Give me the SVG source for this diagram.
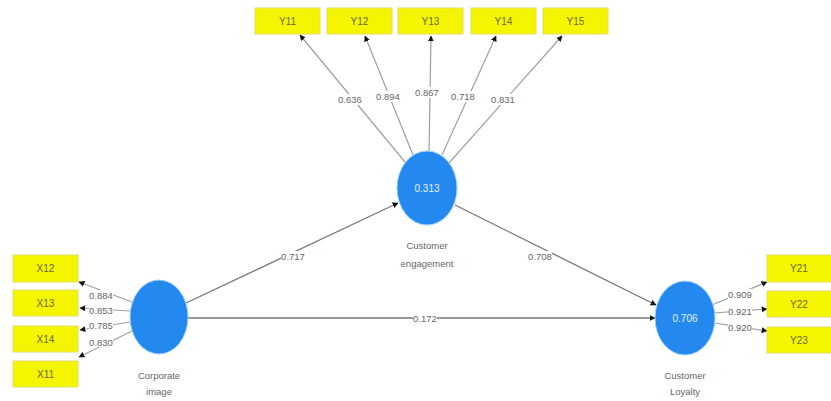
<svg xmlns="http://www.w3.org/2000/svg" width="831" height="401" viewBox="0 0 831 401">
<style>
.box{fill:#f5f500;stroke:#e2dc6a;stroke-width:1}
.bt{font-family:"Liberation Sans",Arial,sans-serif;font-size:10px;fill:#6a6a40;text-anchor:middle}
.lv{fill:#2389ef;stroke:#9fd0ff;stroke-width:1}
.lvt{font-family:"Liberation Sans",Arial,sans-serif;font-size:10px;fill:#e8f2ff;text-anchor:middle}
.nm{font-family:"Liberation Sans",Arial,sans-serif;font-size:9.5px;fill:#666;text-anchor:middle}
.ld{stroke:#a0a0a0;stroke-width:1.2;fill:none;marker-end:url(#ah)}
.st{stroke:#777;stroke-width:1.3;fill:none;marker-end:url(#ah)}
.lb{font-family:"Liberation Sans",Arial,sans-serif;font-size:9.5px;fill:#666;text-anchor:middle}
.bg{fill:#fff}
</style>
<defs>
<marker id="ah" viewBox="0 0 10 10" refX="9" refY="5" markerWidth="6" markerHeight="6" markerUnits="userSpaceOnUse" orient="auto">
<path d="M0,0 L10,5 L0,10 z" fill="#111"/>
</marker>
</defs>
<g id="connectors">
<line class="ld" x1="405" y1="162" x2="300" y2="35"/>
<line class="ld" x1="413" y1="155" x2="365" y2="36"/>
<line class="ld" x1="429" y1="151" x2="431" y2="36"/>
<line class="ld" x1="442" y1="155" x2="496" y2="36"/>
<line class="ld" x1="449" y1="163" x2="562" y2="36"/>
<line class="ld" x1="132" y1="302" x2="79" y2="282"/>
<line class="ld" x1="130" y1="311" x2="80" y2="308"/>
<line class="ld" x1="130" y1="322" x2="80" y2="330"/>
<line class="ld" x1="132" y1="331" x2="79" y2="357"/>
<line class="ld" x1="712" y1="305" x2="767" y2="282"/>
<line class="ld" x1="714" y1="313" x2="767" y2="309"/>
<line class="ld" x1="714" y1="323" x2="767" y2="331"/>
<line class="st" x1="186" y1="303" x2="398" y2="203"/>
<line class="st" x1="455" y1="205" x2="656" y2="305"/>
<line class="st" x1="188" y1="318" x2="655" y2="318"/>
<rect class="bg" x="338" y="94" width="24" height="11"/><text class="lb" x="350" y="103">0.636</text>
<rect class="bg" x="376" y="91" width="24" height="11"/><text class="lb" x="388" y="100">0.894</text>
<rect class="bg" x="415" y="87" width="24" height="11"/><text class="lb" x="427" y="96">0.867</text>
<rect class="bg" x="451" y="91" width="24" height="11"/><text class="lb" x="463" y="100">0.718</text>
<rect class="bg" x="491" y="94" width="24" height="11"/><text class="lb" x="503" y="103">0.831</text>
<rect class="bg" x="89" y="290" width="24" height="10"/><text class="lb" x="101" y="299">0.884</text>
<rect class="bg" x="89" y="306" width="24" height="10"/><text class="lb" x="101" y="314">0.853</text>
<rect class="bg" x="89" y="321" width="24" height="10"/><text class="lb" x="101" y="329">0.785</text>
<rect class="bg" x="89" y="337" width="24" height="10"/><text class="lb" x="101" y="346">0.830</text>
<rect class="bg" x="728" y="289" width="24" height="10"/><text class="lb" x="740" y="298">0.909</text>
<rect class="bg" x="728" y="306" width="24" height="10"/><text class="lb" x="740" y="315">0.921</text>
<rect class="bg" x="728" y="322" width="24" height="10"/><text class="lb" x="740" y="331">0.920</text>
<rect class="bg" x="281" y="251" width="24" height="11"/><text class="lb" x="293" y="260">0.717</text>
<rect class="bg" x="528" y="251" width="24" height="11"/><text class="lb" x="540" y="260">0.708</text>
<rect class="bg" x="413" y="313" width="24" height="10"/><text class="lb" x="425" y="322">0.172</text>
</g>
<g id="Y11"><rect class="box" x="255" y="8" width="65" height="26"/><text class="bt" x="287.5" y="25">Y11</text></g>
<g id="Y12"><rect class="box" x="327" y="8" width="65" height="26"/><text class="bt" x="359.5" y="25">Y12</text></g>
<g id="Y13"><rect class="box" x="398" y="8" width="65" height="26"/><text class="bt" x="430.5" y="25">Y13</text></g>
<g id="Y14"><rect class="box" x="471" y="8" width="65" height="26"/><text class="bt" x="503.5" y="25">Y14</text></g>
<g id="Y15"><rect class="box" x="543" y="8" width="65" height="26"/><text class="bt" x="575.5" y="25">Y15</text></g>
<g id="X12"><rect class="box" x="13" y="255" width="65" height="27"/><text class="bt" x="45.5" y="272">X12</text></g>
<g id="X13"><rect class="box" x="13" y="290" width="65" height="26"/><text class="bt" x="45.5" y="307">X13</text></g>
<g id="X14"><rect class="box" x="13" y="326" width="65" height="26"/><text class="bt" x="45.5" y="343">X14</text></g>
<g id="X11"><rect class="box" x="13" y="361" width="65" height="26"/><text class="bt" x="45.5" y="378">X11</text></g>
<g id="Y21"><rect class="box" x="767" y="255" width="65" height="27"/><text class="bt" x="799" y="272">Y21</text></g>
<g id="Y22"><rect class="box" x="767" y="291" width="65" height="26"/><text class="bt" x="799" y="308">Y22</text></g>
<g id="Y23"><rect class="box" x="767" y="327" width="65" height="26"/><text class="bt" x="799" y="344">Y23</text></g>
<g id="customer-engagement"><ellipse class="lv" cx="427" cy="188" rx="30" ry="37"/><text class="lvt" x="427" y="192">0.313</text><text class="nm" x="427" y="249">Customer</text><text class="nm" x="427" y="267">engagement</text></g>
<g id="corporate-image"><ellipse class="lv" cx="159" cy="317" rx="29" ry="37"/><text class="nm" x="159" y="379">Corporate</text><text class="nm" x="159" y="395">image</text></g>
<g id="customer-loyalty"><ellipse class="lv" cx="685" cy="318" rx="30" ry="37"/><text class="lvt" x="685" y="322">0.706</text><text class="nm" x="685" y="379">Customer</text><text class="nm" x="685" y="395">Loyalty</text></g>
</svg>
